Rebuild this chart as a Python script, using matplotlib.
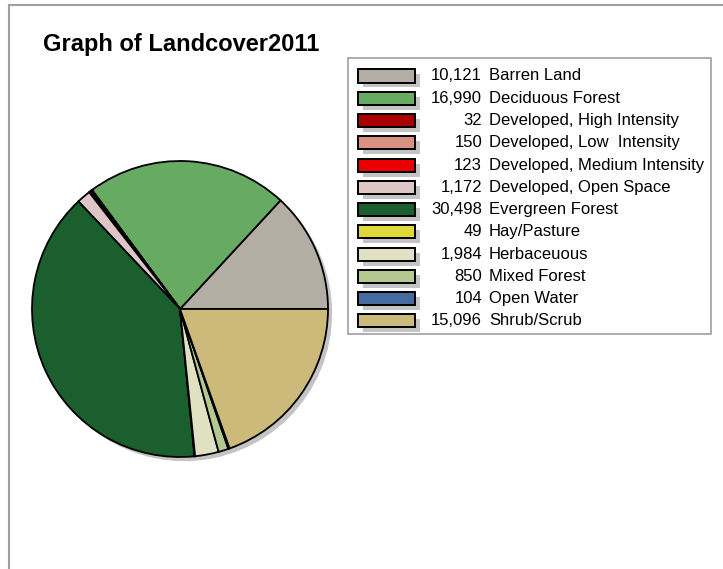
import matplotlib
matplotlib.use('Agg')
import matplotlib.pyplot as plt
from matplotlib.patches import Rectangle, Circle
from matplotlib.lines import Line2D

plt.rcParams['font.family'] = ['Liberation Sans', 'DejaVu Sans']

# landcover classes, pixel counts and NLCD colours
classes = ['Barren Land', 'Deciduous Forest', 'Developed, High Intensity',
           'Developed, Low  Intensity', 'Developed, Medium Intensity',
           'Developed, Open Space', 'Evergreen Forest', 'Hay/Pasture',
           'Herbaceuous', 'Mixed Forest', 'Open Water', 'Shrub/Scrub']
counts = [10121, 16990, 32, 150, 123, 1172, 30498, 49, 1984, 850, 104, 15096]
colors = ['#B3AEA3', '#67AB63', '#AB0000', '#D99282', '#EB0000', '#DEC6C6',
          '#1C5F2E', '#DCD939', '#E0E0C2', '#B5C88F', '#466B9F', '#CCBA7B']

W, H = 723, 569
fig = plt.figure(figsize=(W / 100, H / 100), dpi=100)

def fx(px):
    return px / W

def fy(py):
    return 1 - py / H

# outer frame (top and left edges)
fig.add_artist(Line2D([fx(9), fx(723)], [fy(5), fy(5)], color='#a0a0a0', lw=1.5))
fig.add_artist(Line2D([fx(9), fx(9)], [fy(5), fy(569)], color='#a0a0a0', lw=1.5))

fig.text(fx(43), fy(45), 'Graph of Landcover2011', fontsize=17, fontweight='bold',
         va='center', ha='left')

# pie
cx, cy, r = 180, 309, 148
ax = fig.add_axes([fx(cx - r), fy(cy + r), 2 * r / W, 2 * r / H])
ax.set_xlim(-1, 1)
ax.set_ylim(-1, 1)
ax.set_aspect('equal')
ax.axis('off')
ax.add_patch(Circle((0.028, -0.028), 1.0, facecolor='#c4c4c4', edgecolor='none',
                    zorder=0, clip_on=False))
wedges, _ = ax.pie(counts, colors=colors, startangle=0, counterclock=True,
                   radius=1.0, frame=False,
                   wedgeprops=dict(edgecolor='black', linewidth=1.3))
for w in wedges:
    w.set_zorder(2)
    w.set_clip_on(False)
ax.set_xlim(-1, 1)
ax.set_ylim(-1, 1)

# legend box
fig.add_artist(Rectangle((fx(348), fy(334)), fx(711) - fx(348), fy(58) - fy(334),
                         transform=fig.transFigure, facecolor='white',
                         edgecolor='#a0a0a0', lw=1.2))
row0, step = 76, 22.27
for i, (name, n, c) in enumerate(zip(classes, counts, colors)):
    yc = row0 + i * step
    fig.add_artist(Rectangle((fx(363), fy(yc + 11.5)), 57 / W, 13 / H,
                             transform=fig.transFigure, facecolor='#c4c4c4',
                             edgecolor='none'))
    fig.add_artist(Rectangle((fx(358), fy(yc + 6.5)), 57 / W, 13 / H,
                             transform=fig.transFigure, facecolor=c,
                             edgecolor='black', lw=1.4))
    fig.text(fx(482), fy(yc), f'{n:,}', fontsize=12, ha='right', va='center')
    fig.text(fx(489), fy(yc), name, fontsize=12, ha='left', va='center')

fig.savefig('out.png', dpi=100)
